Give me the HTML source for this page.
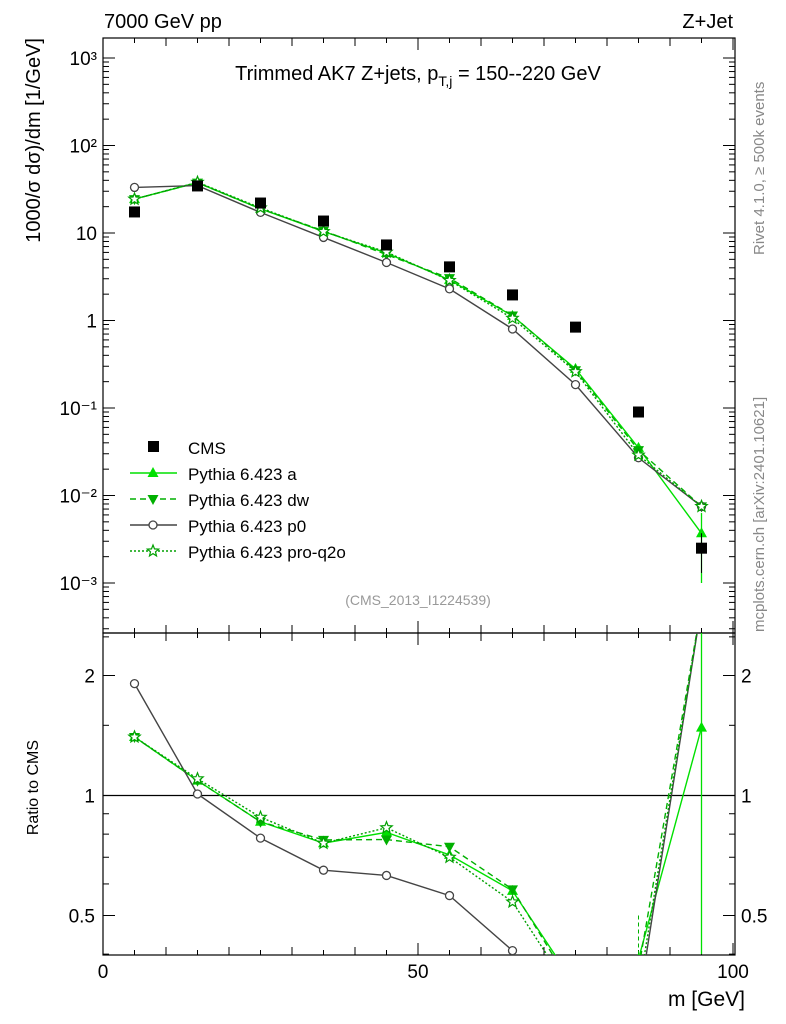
<!DOCTYPE html>
<html><head><meta charset="utf-8"><style>
body{margin:0;background:#fff;}
svg{display:block;font-family:"Liberation Sans",sans-serif;}
</style></head><body>
<svg id="c" width="786" height="1024" viewBox="0 0 786 1024"></svg>
<script>
const xCenters=[5,15,25,35,45,55,65,75,85,95];
const cmsVals=[17.4,34.5,22,13.7,7.3,4.1,1.96,0.84,0.090,0.0025];
const cmsErr=[0.5,1,0.7,0.4,0.2,0.1,0.06,0.03,0.004,0.0012];
const aVals=[24.4,37.6,18.9,10.4,5.9,2.91,1.13,0.28,0.035,0.0037];
const dwVals=[24.4,37.6,18.9,10.6,5.66,3.05,1.14,0.27,0.033,0.0075];
const p0Vals=[33.2,34.8,17.2,8.9,4.6,2.30,0.80,0.185,0.027,0.0075];
const q2oVals=[24.4,38,19.4,10.4,6.06,2.87,1.06,0.26,0.029,0.0075];
const yTickLabels=["10⁻³","10⁻²","10⁻¹","1","10","10²","10³"];
const xTickVals=[0,50,100];
const rTickVals=[0.5,1,2];

const S=document.getElementById('c'),NS='http://www.w3.org/2000/svg';
function el(t,a,p){const e=document.createElementNS(NS,t);for(const k in a)e.setAttribute(k,a[k]);(p||S).appendChild(e);return e;}
const L=103,R=735,T=38,MB=633,RB=955;
const X=v=>L+(v)*(733-103)/100;
const Y=v=>320.5-Math.log10(v)*87.5;
const YR=v=>795.5-Math.log2(v)*120;
const clipM=el('clipPath',{id:'cm'});el('rect',{x:L,y:T,width:R-L,height:MB-T},clipM);
const clipR=el('clipPath',{id:'cr'});el('rect',{x:L,y:MB,width:R-L,height:RB-MB},clipR);

let f=el('rect',{x:L,y:T,width:R-L,height:MB-T,fill:'none',stroke:'#000','stroke-width':1.2});

f=el('rect',{x:L,y:MB,width:R-L,height:RB-MB,fill:'none',stroke:'#000','stroke-width':1.2});


for(let e=-4;e<=3;e++){for(let m=1;m<10;m++){const v=m*Math.pow(10,e);const y=Y(v);if(y<T||y>MB)continue;const len=m==1?12:6;
el('line',{x1:L,y1:y,x2:L+len,y2:y,stroke:'#000'});el('line',{x1:R,y1:y,x2:R-len,y2:y,stroke:'#000'});}}
yTickLabels.forEach((s,i)=>{const e=i-3;const t=el('text',{x:L-6,y:Y(Math.pow(10,e))+7,'text-anchor':'end','font-size':19});t.textContent=s;
});
for(let v=0;v<=100;v+=5){const x=X(v);const len=v%50==0?12:(v%10==0?8:5);
[[MB,-1],[T,1],[RB,-1],[MB,1]].forEach(([y,d])=>el('line',{x1:x,y1:y,x2:x,y2:y+d*len,stroke:'#000'}));}
xTickVals.forEach(v=>{const t=el('text',{x:X(v),y:978,'text-anchor':'middle','font-size':19});t.textContent=v;
});
[0.4,0.5,0.6,0.7,0.8,0.9,1,1.5,2,2.5].forEach(v=>{const y=YR(v);if(y<MB||y>RB)return;const len=rTickVals.includes(v)?12:6;
el('line',{x1:L,y1:y,x2:L+len,y2:y,stroke:'#000'});el('line',{x1:R,y1:y,x2:R-len,y2:y,stroke:'#000'});});
rTickVals.forEach(v=>{let t=el('text',{x:L-8,y:YR(v)+7,'text-anchor':'end','font-size':19});t.textContent=v;

t=el('text',{x:R+6,y:YR(v)+7,'font-size':19});t.textContent=v;
});
el('line',{x1:L,y1:YR(1),x2:R,y2:YR(1),stroke:'#000','stroke-width':1.2});

function txt(s,a,name){const t=el('text',a);t.textContent=s;return t;}
txt('7000 GeV pp',{x:104,y:28,'font-size':20},'energy-label');
txt('Z+Jet',{x:733,y:28,'font-size':20,'text-anchor':'end'},'process-label');
const tt=txt('',{x:418,y:80,'font-size':20,'text-anchor':'middle'},'plot-title');
tt.innerHTML='Trimmed AK7 Z+jets, p<tspan font-size="14" dy="6">T,j</tspan><tspan dy="-6"> = 150--220 GeV</tspan>';
txt('(CMS_2013_I1224539)',{x:418,y:605,'font-size':14,fill:'#999','text-anchor':'middle'},'analysis-id');
txt('m [GeV]',{x:745,y:1006,'font-size':21,'text-anchor':'end'},'x-axis-title');
txt('1000/σ   dσ)/dm [1/GeV]',{x:0,y:0,'font-size':20,'text-anchor':'end',transform:'translate(40,38) rotate(-90)'},'y-axis-title');
txt('Ratio to CMS',{x:0,y:0,'font-size':16,'text-anchor':'end',transform:'translate(38,740) rotate(-90)'},'ratio-axis-title');
txt('Rivet 4.1.0, ≥ 500k events',{x:0,y:0,'font-size':15,fill:'#888',transform:'translate(764,255) rotate(-90)'},'rivet-label');
txt('mcplots.cern.ch [arXiv:2401.10621]',{x:0,y:0,'font-size':15,fill:'#888',transform:'translate(764,632) rotate(-90)'},'mcplots-label');

const series=[
 {n:'a',v:aVals,c:'#00e000',d:'',m:'tri',lab:'Pythia 6.423 a'},
 {n:'dw',v:dwVals,c:'#00b000',d:'6,4',m:'tridown',lab:'Pythia 6.423 dw'},
 {n:'p0',v:p0Vals,c:'#444',d:'',m:'circ',lab:'Pythia 6.423 p0'},
 {n:'pro-q2o',v:q2oVals,c:'#00a000',d:'2,2',m:'star',lab:'Pythia 6.423 pro-q2o'}];
function marker(type,x,y,c,g){
 if(type=='tri')return el('path',{d:`M${x},${y-6}L${x+5.5},${y+4}L${x-5.5},${y+4}Z`,fill:c},g);
 if(type=='tridown')return el('path',{d:`M${x},${y+6}L${x+5.5},${y-4}L${x-5.5},${y-4}Z`,fill:c},g);
 if(type=='circ')return el('circle',{cx:x,cy:y,r:4,fill:'#fff',stroke:c,'stroke-width':1.3},g);
 let p='';for(let i=0;i<10;i++){const r=i%2?2.6:6,a=-Math.PI/2+i*Math.PI/5;p+=(i?'L':'M')+(x+r*Math.cos(a)).toFixed(1)+','+(y+r*Math.sin(a)).toFixed(1);}
 return el('path',{d:p+'Z',fill:'#fff',stroke:c,'stroke-width':1.2},g);}
series.forEach(s=>{
 const g=el('g',{'clip-path':'url(#cm)'});
 el('polyline',{points:xCenters.map((x,i)=>X(x)+','+Y(s.v[i])).join(' '),fill:'none',stroke:s.c,'stroke-width':1.4,'stroke-dasharray':s.d},g);
 xCenters.forEach((x,i)=>{const m=marker(s.m,X(x),Y(s.v[i]),s.c,g);});
 const gr=el('g',{'clip-path':'url(#cr)'});
 el('polyline',{points:xCenters.map((x,i)=>X(x)+','+YR(s.v[i]/cmsVals[i])).join(' '),fill:'none',stroke:s.c,'stroke-width':1.4,'stroke-dasharray':s.d},gr);
 xCenters.forEach((x,i)=>{const m=marker(s.m,X(x),YR(s.v[i]/cmsVals[i]),s.c,gr);});
});
el('line',{x1:X(95),y1:Y(0.001),x2:X(95),y2:Y(0.0063),stroke:'#00e000','stroke-width':1.3});
el('line',{x1:X(95),y1:YR(0.4),x2:X(95),y2:MB,stroke:'#00e000','stroke-width':1.3});
el('line',{x1:X(85),y1:YR(0.5),x2:X(85),y2:RB,stroke:'#00b000','stroke-width':1,'stroke-dasharray':'4,3'});
const gc=el('g',{});
xCenters.forEach((x,i)=>{el('line',{x1:X(x),y1:Y(cmsVals[i]+cmsErr[i]),x2:X(x),y2:Y(cmsVals[i]-cmsErr[i]),stroke:'#000'},gc);
 const r=el('rect',{x:X(x)-5.5,y:Y(cmsVals[i])-5.5,width:11,height:11,fill:'#000'},gc);});

const lg=el('g',{});
let ly=447;
el('rect',{x:148,y:ly-6,width:11,height:11,fill:'#000'},lg);
lg.appendChild(txt('CMS',{x:188,y:ly+7,'font-size':17},'legend-entry-cms'));
series.forEach((s,i)=>{const y=ly+26*(i+1);
 el('line',{x1:130,y1:y,x2:177,y2:y,stroke:s.c,'stroke-width':1.4,'stroke-dasharray':s.d},lg);marker(s.m,153,y,s.c,lg);
 lg.appendChild(txt(s.lab,{x:188,y:y+7,'font-size':17},'legend-entry-'+s.n));});
</script>
</body></html>
